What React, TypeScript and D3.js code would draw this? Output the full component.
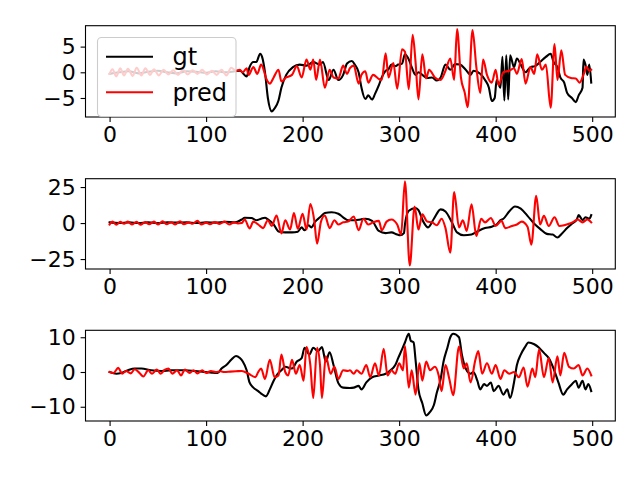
import React, { useEffect, useRef } from 'react';
import * as d3 from 'd3';

type Pt = [number, number];

// subplot 1
const gt1: Pt[] = [
  [0,-0.3],[10,0],[20,0.2],[30,-0.2],[40,0.1],[50,0.3],[60,0],[70,-0.2],[80,0.2],[90,0.1],[100,-0.1],[110,0.2],[120,0],[130,0.2],[135,0.3],[142,-0.8],[145,1],[149,2],[152,2],[156,3.6],[158,3],[161,0],[164,-5],[168,-7.6],[171,-7],[175,-5.5],[178,-3],[183,-0.5],[190,1],[197,1.5],[204,1.3],[211,2],[218,1.5],[221,2],[227,-1.5],[232,0.5],[237,-1.5],[242,-0.5],[246,1.7],[251,2.2],[254,1.5],[258,0],[261,-3],[265,-5.2],[268,-4.5],[272,-5.3],[275,-4.2],[279,-2.5],[282,-1],[286,0.3],[289,0.6],[292,1.5],[296,1.2],[299,1.5],[303,1.7],[306,3.5],[310,2.5],[313,1],[317,-0.5],[320,0],[324,-0.5],[329,-1.1],[334,-1],[339,-1.6],[343,-1],[348,1.5],[353,0.5],[358,1.6],[363,1.5],[369,0.5],[374,-0.5],[377,0.3],[384,-0.3],[389,-1.5],[393,-3],[396,-5.6],[399,-5],[401,-1.5],[405,-3],[407,3],[409,-5.5],[411,3.3],[413,-5.3],[415,3.3],[419,1],[422,2.7],[426,1.5],[431,0],[436,1],[441,1.2],[446,2],[452,3],[457,3.6],[460,2],[464,1],[467,-1],[471,-2],[474,-4],[479,-5],[483,-5.8],[486,-4.5],[490,-3],[491,2.5],[493,1.5],[495,-0.5],[497,1.5],[499,-2],
];
const pred1: Pt[] = [
  [0,-0.3],[3,0.6],[7,-0.8],[11,0.8],[15,-0.6],[19,0.7],[24,-0.7],[28,0.9],[33,-0.6],[37,0.8],[42,-0.5],[46,0.6],[51,-0.6],[56,0.5],[61,-0.4],[66,0.4],[71,-0.5],[76,0.5],[81,-0.4],[86,0.4],[91,-0.3],[96,0.5],[101,-0.4],[106,0.3],[111,-0.5],[116,0.5],[121,-0.6],[126,0.9],[131,0.3],[135,0.5],[138,0],[142,0.8],[144,-0.5],[149,1],[153,-0.3],[157,1.5],[163,-1.5],[166,-2.2],[170,-1],[175,0.5],[178,-1.8],[183,-1],[189,-0.5],[194,1.2],[199,-1],[204,2.5],[208,0.5],[211,2.5],[214,-1.5],[218,2.5],[223,-3],[228,0.5],[232,-1],[237,-1.2],[242,1.3],[246,-0.3],[249,0.8],[253,1.3],[258,-2.2],[261,-0.5],[265,0.2],[268,-2],[273,-0.5],[279,-1.3],[282,-1.5],[286,3.7],[289,-1],[294,1.8],[298,-3.2],[303,4.5],[306,4],[310,-3.3],[314,7.3],[317,2],[320,-5.3],[324,3.5],[328,-1.2],[331,0.5],[337,-1],[343,-1.5],[348,0.3],[353,2.7],[357,-1.5],[360,8.4],[364,-1],[368,-4],[371,-6.8],[376,8.2],[380,1],[384,-4],[387,2.5],[391,-0.5],[396,-2],[400,0.5],[403,-2.5],[408,0],[414,0.3],[419,0.8],[422,-0.3],[427,2.6],[431,-2.2],[436,1],[440,-0.3],[443,3.5],[448,0.5],[452,1.5],[457,-6.9],[461,5.5],[464,-1.5],[468,4.3],[472,-0.5],[478,-1.1],[483,-1.2],[487,-2],[491,-0.5],[494,1.1],[497,0.3],[499,0.5],
];

// subplot 2
const gt2: Pt[] = [
  [0,0.5],[10,0],[20,0.5],[30,0],[40,0.5],[50,0],[60,0.5],[70,0.3],[80,0.5],[90,0],[100,0.5],[110,0.3],[120,0.8],[130,0.5],[137,2.5],[140,3.7],[147,3.5],[152,2],[157,3],[161,3.7],[164,2.5],[170,-1],[175,-5.8],[182,-6.5],[189,-6.5],[195,-6],[199,-3],[202,-5],[206,-1.5],[209,-3],[213,1],[218,4],[223,7],[230,7.5],[237,6.5],[242,4],[247,2],[254,2],[260,2.5],[265,3],[272,1.5],[279,-5.5],[286,-7],[292,-6.5],[298,-8],[301,-8.5],[305,-7],[306,-1],[310,8.5],[317,10.5],[320,9],[325,1],[330,-3],[336,3],[343,9.5],[348,8],[355,0],[360,-6.5],[367,-8.5],[375,-8],[382,-5.5],[389,-3.5],[396,-2.5],[401,-1],[405,2],[408,3],[414,8],[420,11.5],[426,10],[433,5],[440,-0.5],[446,-4],[453,-7.5],[459,-8],[464,-10],[469,-7],[474,-3.5],[479,-0.5],[484,2.3],[486,5.6],[490,2],[493,4],[497,3],[499,5.5],
];
const pred2: Pt[] = [
  [0,-1],[3,1],[7,-1.2],[11,0.8],[15,-0.5],[19,1],[23,-1],[28,0.8],[32,-1.2],[37,0.7],[41,-0.8],[46,1],[50,-1],[55,1.2],[59,-0.8],[64,0.6],[68,-1],[73,1.3],[77,-0.8],[82,0.5],[86,-0.5],[91,1.5],[95,-1],[100,0.3],[104,-0.8],[109,0.7],[114,-0.6],[119,1],[124,-1],[129,0.5],[133,-0.3],[137,0],[140,2.5],[145,-3.7],[149,1],[154,-1],[159,-3.5],[164,2],[168,-2],[173,5.3],[178,-7.2],[182,2],[187,-4.5],[191,7],[195,-4],[200,6.5],[204,-4.5],[208,13.2],[212,2],[215,-14.3],[219,1],[223,5.3],[228,-3.5],[233,2],[237,-1],[242,0.5],[247,1],[253,4.6],[258,-5],[263,3],[268,-1],[273,0.5],[279,1.5],[282,-5],[287,1],[292,2.5],[298,-1],[302,-8],[306,29],[311,-29.5],[316,11.5],[320,-4.5],[324,6],[329,1],[334,0.5],[339,-1.5],[344,3],[348,-3.5],[353,-20.5],[357,21.5],[362,-3],[366,2],[370,-5.5],[375,13],[380,-9],[385,3],[389,0.5],[395,3.5],[400,-2],[406,1.5],[410,-3.5],[417,-2],[422,-1],[427,1],[433,-2.5],[437,-15],[442,19],[446,-1],[450,5],[455,-2],[461,4],[466,-2],[471,-1.5],[476,-0.5],[481,1],[485,2.5],[490,0.5],[495,2.5],[499,0.5],
];

// subplot 3
const gt3: Pt[] = [
  [0,0],[7,-0.5],[12,-0.3],[19,0.5],[26,1],[33,1],[43,0.5],[54,0.3],[64,0.5],[78,0.5],[88,0.3],[99,0],[106,-0.2],[112,-0.3],[116,1],[121,2],[126,3.5],[131,4.6],[135,4],[138,3],[142,0.5],[145,-3],[149,-4.5],[154,-5.5],[157,-6.2],[162,-7],[166,-5],[170,-2.5],[173,-1],[178,0.5],[182,1.5],[189,1],[194,3],[199,4],[202,7],[207,5],[211,7],[216,6],[220,7.2],[224,3],[228,5.7],[232,2],[237,-3.2],[242,-4.5],[249,-4.6],[253,-4.5],[258,-4],[261,-5],[266,-3],[272,-1.5],[279,-1],[286,-0.5],[291,0.5],[296,2],[299,4],[303,6.5],[306,8.5],[310,11],[312,9],[315,8.5],[317,3.5],[320,-5],[324,-9],[328,-12.5],[332,-11.5],[336,-9.5],[339,-6],[343,-2],[346,3],[350,7],[353,10],[356,11],[362,10],[365,5],[369,1],[374,-0.5],[377,0],[381,-2.5],[384,-5],[388,-3.5],[391,-4],[395,-3],[398,-5.5],[403,-4],[408,-6.5],[412,-5],[415,-7.5],[419,-3],[422,2],[426,5],[430,7],[434,8.5],[440,8],[445,7],[450,5.5],[455,4],[460,1],[465,-3],[470,-6.5],[474,-5],[479,-3.5],[483,-2.5],[486,-4.5],[490,-2.5],[493,-5],[496,-3.5],[499,-5.5],
];
const pred3: Pt[] = [
  [0,0],[4,-0.3],[9,1.2],[13,-0.5],[17,0.3],[22,-0.4],[26,0.8],[31,-0.3],[35,-1.3],[40,0.5],[44,-0.5],[49,0.7],[53,-0.5],[57,0.6],[61,1],[65,-0.5],[70,0.5],[74,-1],[78,0.7],[83,-0.3],[87,0.5],[91,-0.4],[96,0.5],[100,-0.3],[105,0.3],[110,0],[115,0.2],[119,0],[125,0.1],[131,0.2],[137,0.3],[144,-0.5],[151,-1.5],[154,0],[157,1],[161,-2],[166,3.5],[171,-1.5],[175,-1],[178,5],[182,0],[185,-1],[189,3.5],[193,-0.5],[197,2],[201,-2.5],[204,7.2],[208,2],[211,-7.5],[215,7],[218,2],[220,-7.5],[224,4.5],[229,-0.5],[233,1.5],[237,-2],[242,0.5],[247,0.3],[249,0.5],[253,-0.5],[256,0.5],[261,-0.5],[266,2],[270,-1.5],[275,2.5],[279,-1],[284,6.7],[288,-1],[292,0.5],[296,-0.5],[300,2.5],[304,0.5],[306,7.5],[310,-4.5],[313,0.5],[317,-6.5],[321,2.5],[324,-2.5],[328,3],[332,0.5],[337,1.5],[341,-1],[344,-5.5],[348,2],[352,-2],[356,-6.7],[362,7.3],[367,1],[370,2.5],[374,-3],[379,3.5],[382,6],[386,-0.5],[391,2.5],[396,-0.5],[400,2],[405,-2],[409,0.5],[414,-0.5],[419,0],[424,-1.5],[429,1.3],[433,-4.2],[438,1],[441,-1.5],[445,6.5],[450,-1.5],[455,4],[459,-3],[464,4.5],[467,-1],[471,5.5],[476,1.5],[481,1],[486,2],[490,-1],[495,1],[499,-1],
];

const xDomain: [number, number] = [-24.95, 523.95];
const xTicks = [0, 100, 200, 300, 400, 500];
const yDomains: [number, number][] = [[-8.7, 9.07], [-31.9, 30.8], [-14.1, 12.0]];
const yTicks = [[-5, 0, 5], [-25, 0, 25], [-10, 0, 10]];
const seriesNames = ['gt', 'pred'];
const seriesColors = ['black', 'red'];

const panels = [
  { gt: gt1, pred: pred1, top: 25.7, bottom: 117 },
  { gt: gt2, pred: pred2, top: 178.7, bottom: 269 },
  { gt: gt3, pred: pred3, top: 330.3, bottom: 421 },
];

export default function App() {
  const svgRef = useRef<SVGSVGElement>(null);

  useEffect(() => {
    if (!svgRef.current) return;
    const svg = d3.select(svgRef.current);
    svg.selectAll('*').remove();

    const left = 85.5;
    const right = 615.3;
    const font = 'DejaVu Sans, sans-serif';

    const xScale = d3.scaleLinear().domain(xDomain).range([left, right]);

    panels.forEach((p, i) => {
      const yScale = d3.scaleLinear().domain(yDomains[i]).range([p.bottom, p.top]);
      const g = svg.append('g');

      // smooth through the read-off turning points
      const line = d3.line<Pt>()
        .x(d => xScale(d[0]))
        .y(d => yScale(d[1]))
        .curve(d3.curveMonotoneX);

      [p.gt, p.pred].forEach((data, k) => {
        g.append('path')
          .attr('d', line(data))
          .attr('fill', 'none')
          .attr('stroke', seriesColors[k])
          .attr('stroke-width', 2.1)
          .attr('stroke-linejoin', 'round')
          .attr('stroke-linecap', 'square');
      });

      // axes
      const xAxis = g.append('g')
        .attr('transform', `translate(0,${p.bottom})`)
        .call(d3.axisBottom(xScale).tickValues(xTicks).tickSize(4.9).tickPadding(4.9).tickFormat(d3.format('d')));
      const yAxis = g.append('g')
        .attr('transform', `translate(${left},0)`)
        .call(d3.axisLeft(yScale).tickValues(yTicks[i]).tickSize(4.9).tickPadding(4.9)
          .tickFormat(d => (+d < 0 ? '\u2212' + Math.abs(+d) : String(d))));

      [xAxis, yAxis].forEach(a => {
        a.select('.domain').remove();
        a.attr('font-family', font).attr('font-size', 22);
        a.selectAll('line').attr('stroke', 'black').attr('stroke-width', 1.1);
        a.selectAll('text').attr('fill', 'black');
      });

      g.append('rect')
        .attr('x', left)
        .attr('y', p.top)
        .attr('width', right - left)
        .attr('height', p.bottom - p.top)
        .attr('fill', 'none')
        .attr('stroke', 'black')
        .attr('stroke-width', 1.1);
    });

    // legend (top panel, upper left)
    const legend = svg.append('g').attr('font-family', font).attr('font-size', 24);
    legend.append('rect')
      .attr('x', 97.5)
      .attr('y', 37.5)
      .attr('width', 138.5)
      .attr('height', 79)
      .attr('rx', 4)
      .attr('fill', 'white')
      .attr('fill-opacity', 0.8)
      .attr('stroke', '#cccccc')
      .attr('stroke-width', 1.1);
    const rowY = [56.7, 92.3];
    seriesNames.forEach((name, k) => {
      legend.append('line')
        .attr('x1', 106).attr('x2', 153)
        .attr('y1', rowY[k]).attr('y2', rowY[k])
        .attr('stroke', seriesColors[k])
        .attr('stroke-width', 2.1);
      legend.append('text')
        .attr('x', 172.5)
        .attr('y', rowY[k] + 8.5)
        .attr('fill', 'black')
        .text(name);
    });
  }, []);

  return (
    <div style={{ position: 'absolute', left: 0, top: 0 }}>
      <svg ref={svgRef} width={640} height={480} style={{ display: 'block', background: 'white' }} />
    </div>
  );
}
